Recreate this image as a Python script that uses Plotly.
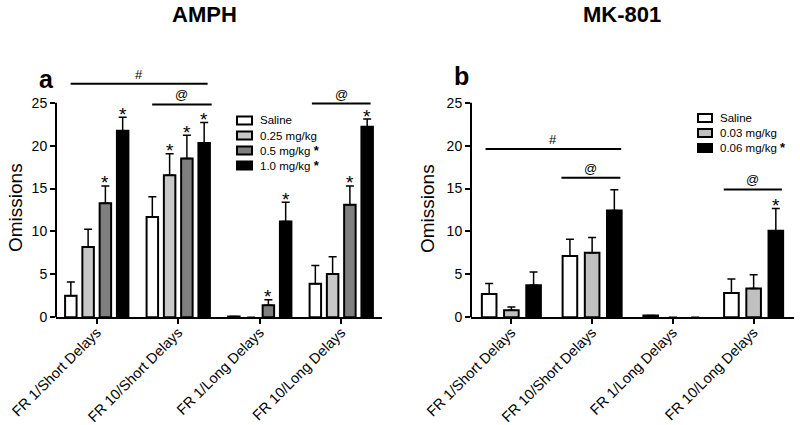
import plotly.graph_objects as go

# ---------------- data ----------------
categories = ["FR 1/Short Delays", "FR 10/Short Delays", "FR 1/Long Delays", "FR 10/Long Delays"]

# Panel a: AMPH
amph_names = ["Saline", "0.25 mg/kg", "0.5 mg/kg", "1.0 mg/kg"]
amph_saline = [2.5, 11.7, 0.1, 3.9]
amph_saline_sem = [1.6, 2.35, 0.0, 2.15]
amph_025 = [8.2, 16.55, 0.0, 5.05]
amph_025_sem = [2.05, 2.5, 0.0, 2.0]
amph_05 = [13.3, 18.5, 1.4, 13.1]
amph_05_sem = [2.0, 2.7, 0.65, 2.2]
amph_10 = [21.75, 20.3, 11.15, 22.2]
amph_10_sem = [1.55, 2.4, 2.25, 0.9]
amph_stars = [[0, 0, 0, 0], [0, 1, 0, 0], [1, 1, 1, 1], [1, 1, 1, 1]]
amph_legend_star = [0, 0, 1, 1]

# Panel b: MK-801
mk_names = ["Saline", "0.03 mg/kg", "0.06 mg/kg"]
mk_saline = [2.72, 7.14, 0.2, 2.84]
mk_saline_sem = [1.23, 1.96, 0.0, 1.63]
mk_003 = [0.81, 7.52, 0.0, 3.37]
mk_003_sem = [0.39, 1.78, 0.0, 1.6]
mk_006 = [3.72, 12.44, 0.0, 10.08]
mk_006_sem = [1.56, 2.41, 0.0, 2.59]
mk_stars = [[0, 0, 0, 0], [0, 0, 0, 0], [0, 0, 0, 1]]
mk_legend_star = [0, 0, 1]

# significance brackets: (x start, x end, y, label) in category / data units
amph_brackets = [(-0.32, 1.36, 27.2, "#"), (0.68, 1.41, 24.8, "@"), (2.64, 3.36, 24.9, "@")]
mk_brackets = [(-0.32, 1.36, 19.6, "#"), (0.62, 1.35, 16.25, "@"), (2.63, 3.35, 14.9, "@")]

y_ticks = [0, 5, 10, 15, 20, 25]

# ---------------- style ----------------
FONT = "Arial, Liberation Sans, sans-serif"
amph_colors = ["#ffffff", "#c8c8c8", "#7f7f7f", "#000000"]
mk_colors = ["#ffffff", "#c0c0c0", "#000000"]

fig = go.Figure()
shapes = []
annotations = []


def add_panel(names, values, sems, colors, stars, brackets, xa, ya, slot, width):
    n = len(names)
    xref = "x" if xa == "x" else "x" + xa[1:]
    yref = "y" if ya == "y" else "y" + ya[1:]
    for j in range(n):
        center = (j - (n - 1) / 2) * slot
        fig.add_trace(go.Bar(
            x=categories, y=values[j], name=names[j],
            width=width, offset=center - width / 2,
            marker=dict(color=colors[j],
                        line=dict(color="black", width=[2 if v > 0 else 0 for v in values[j]])),
            error_y=dict(type="data", array=[s if s > 0 else None for s in sems[j]],
                         arrayminus=[0] * len(sems[j]),
                         symmetric=False, color="black", thickness=1.5, width=4),
            xaxis=xa, yaxis=ya, showlegend=False, hoverinfo="skip",
        ))
        for i, flag in enumerate(stars[j]):
            if flag:
                annotations.append(dict(
                    x=i + center, y=values[j][i] + sems[j][i], xref=xref, yref=yref,
                    text="*", showarrow=False, xanchor="center", yanchor="middle", yshift=3,
                    font=dict(family=FONT, size=19, color="black"),
                ))
    for x0, x1, yv, lab in brackets:
        shapes.append(dict(type="line", xref=xref, yref=yref, x0=x0, x1=x1, y0=yv, y1=yv,
                           line=dict(color="black", width=2)))
        annotations.append(dict(x=(x0 + x1) / 2, y=yv, xref=xref, yref=yref, text=lab,
                                showarrow=False, xanchor="center", yanchor="bottom", yshift=0,
                                font=dict(family=FONT, size=13, color="black")))
    # y axis line only from 0 to 25
    shapes.append(dict(type="line", xref=xref + " domain", yref=yref, x0=0, x1=0,
                       y0=-0.12, y1=y_ticks[-1], line=dict(color="black", width=2)))


add_panel(amph_names,
          [amph_saline, amph_025, amph_05, amph_10],
          [amph_saline_sem, amph_025_sem, amph_05_sem, amph_10_sem],
          amph_colors, amph_stars, amph_brackets, "x", "y", slot=0.212, width=0.141)
add_panel(mk_names,
          [mk_saline, mk_003, mk_006],
          [mk_saline_sem, mk_003_sem, mk_006_sem],
          mk_colors, mk_stars, mk_brackets, "x2", "y2", slot=0.275, width=0.181)


# manual legends (paper coordinates from pixel positions)
def px(x):
    return x / 800


def py(y):
    return 1 - y / 425


def add_legend(names, colors, flags, x_box0, x_box1, y_first, step, x_text):
    for k, nm in enumerate(names):
        yc = y_first + k * step
        shapes.append(dict(type="rect", xref="paper", yref="paper",
                           x0=px(x_box0), x1=px(x_box1), y0=py(yc + 4), y1=py(yc - 4),
                           fillcolor=colors[k], line=dict(color="black", width=2)))
        label = nm + (" <b><span style='font-size:13px'>*</span></b>" if flags[k] else "")
        annotations.append(dict(x=px(x_text), y=py(yc), xref="paper", yref="paper",
                                xanchor="left", yanchor="middle", text=label, showarrow=False,
                                font=dict(family=FONT, size=11.5, color="black")))


add_legend(amph_names, amph_colors, amph_legend_star, 237, 252, 120.5, 15, 258)
add_legend(mk_names, mk_colors, mk_legend_star, 698, 712, 118, 15, 718)


def text_ann(x, y, text, size, angle=0):
    return dict(x=px(x), y=py(y), xref="paper", yref="paper", text=text, showarrow=False,
                xanchor="center", yanchor="middle", textangle=angle,
                font=dict(family=FONT, size=size, color="black"))


# titles, panel letters, y-axis titles
annotations += [
    text_ann(205, 15, "<b>AMPH</b>", 22),
    text_ann(622, 15, "<b>MK-801</b>", 22),
    text_ann(46, 79, "<b>a</b>", 25),
    text_ann(461, 76, "<b>b</b>", 25),
    text_ann(15, 208, "Omissions", 19, -90),
    text_ann(427, 208, "Omissions", 19, -90),
]

ydom = [(425 - 317.3) / 425, (425 - 72.7) / 425]
xaxis_common = dict(type="category", range=[-0.5, 3.5], showline=True, linecolor="black", linewidth=2,
                    ticks="outside", ticklen=5, tickwidth=2, tickcolor="black", tickangle=-45,
                    tickfont=dict(family=FONT, size=14.5, color="black"), showgrid=False,
                    zeroline=False, fixedrange=True, automargin=False, ticklabelstandoff=-6)
yaxis_common = dict(range=[0, 28.5], tickvals=y_ticks, showline=False,
                    ticks="outside", ticklen=5, tickwidth=2, tickcolor="black",
                    tickfont=dict(family=FONT, size=14, color="black"), showgrid=False,
                    zeroline=False, domain=ydom, fixedrange=True, automargin=False)

fig.update_layout(
    width=800, height=425, margin=dict(l=0, r=0, t=0, b=0, autoexpand=False),
    paper_bgcolor="white", plot_bgcolor="white", barmode="group",
    xaxis=dict(xaxis_common, domain=[56 / 800, 382 / 800], anchor="y"),
    yaxis=dict(yaxis_common, anchor="x"),
    xaxis2=dict(xaxis_common, domain=[471 / 800, 794 / 800], anchor="y2"),
    yaxis2=dict(yaxis_common, anchor="x2"),
    shapes=shapes, annotations=annotations, showlegend=False,
)

fig.write_html("out.html", config={"displayModeBar": False},
               post_script="document.body.style.margin='0';document.body.style.overflow='hidden';")
